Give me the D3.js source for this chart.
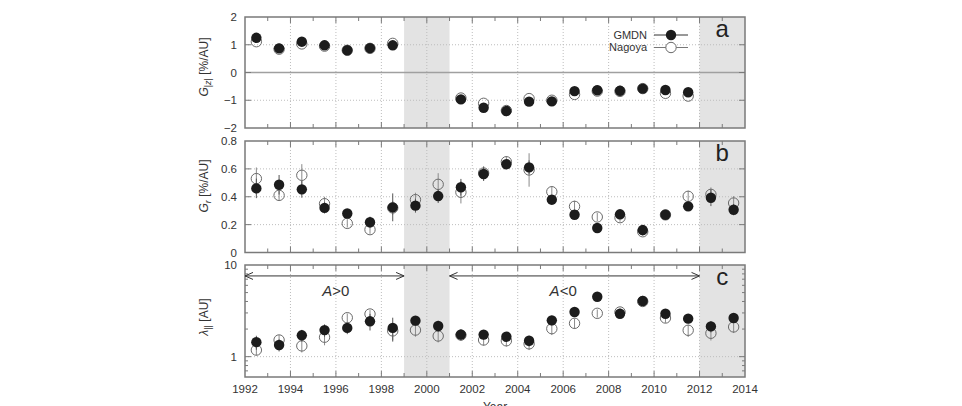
<!DOCTYPE html>
<html>
<head>
<meta charset="utf-8">
<script src="https://cdn.jsdelivr.net/npm/d3@7"></script>
<style>
  body { margin: 0; background: #fff; }
  svg { display: block; font-family: "Liberation Sans", Arial, sans-serif; }
</style>
</head>
<body>
<svg id="chart" width="962" height="406"></svg>
<script>
// ---- data ----
var years = [1992.5, 1993.5, 1994.5, 1995.5, 1996.5, 1997.5, 1998.5, 1999.5, 2000.5, 2001.5, 2002.5,
             2003.5, 2004.5, 2005.5, 2006.5, 2007.5, 2008.5, 2009.5, 2010.5, 2011.5, 2012.5, 2013.5];

// panel a : G|z| [%/AU]  (no values in the shaded periods)
var gmdnA   = [1.25, 0.87, 1.11, 0.98, 0.80, 0.88, 0.98, null, null, -0.97, -1.27,
               -1.39, -1.05, -1.04, -0.67, -0.64, -0.66, -0.58, -0.63, -0.71, null, null];
var nagoyaA = [1.11, 0.84, 1.03, 0.95, 0.80, 0.87, 1.05, null, null, -0.92, -1.11,
               -1.37, -0.94, -1.00, -0.79, -0.67, -0.68, -0.58, -0.75, -0.85, null, null];

// panel b : Gr [%/AU]
var gmdnB      = [0.46, 0.486, 0.453, 0.32, 0.28, 0.217, 0.324, 0.336, 0.405, 0.468, 0.563,
                  0.633, 0.611, 0.379, 0.271, 0.176, 0.274, 0.161, 0.271, 0.331, 0.393, 0.307];
var gmdnBErr   = [0.07, 0.07, 0.06, 0.04, 0.03, 0.04, 0.10, 0.05, 0.05, 0.06, 0.05,
                  0.03, 0.05, 0.02, 0.02, 0.02, 0.02, 0.02, 0.02, 0.02, 0.06, 0.04];
var nagoyaB    = [0.53, 0.41, 0.554, 0.35, 0.209, 0.164, 0.32, 0.379, 0.489, 0.432, 0.57,
                  0.651, 0.592, 0.436, 0.331, 0.255, 0.25, 0.149, 0.27, 0.403, 0.417, 0.355];
var nagoyaBErr = [0.08, 0.04, 0.08, 0.05, 0.03, 0.03, 0.05, 0.05, 0.08, 0.08, 0.05,
                  0.04, 0.12, 0.04, 0.04, 0.03, 0.03, 0.03, 0.02, 0.04, 0.05, 0.05];

// panel c : lambda_|| [AU]
var gmdnC      = [1.44, 1.34, 1.71, 1.95, 2.06, 2.43, 2.06, 2.47, 2.16, 1.74, 1.74,
                  1.65, 1.49, 2.49, 3.07, 4.51, 2.94, 4.05, 2.94, 2.60, 2.14, 2.64];
var gmdnCErr   = [0.25, 0.2, 0.25, 0.3, 0.3, 0.5, 0.6, 0.3, 0.3, 0.25, 0.2,
                  0.2, 0.2, 0.3, 0.3, 0.3, 0.3, 0.3, 0.3, 0.3, 0.3, 0.3];
var nagoyaC    = [1.18, 1.52, 1.31, 1.63, 2.66, 2.92, 1.91, 1.95, 1.68, 1.72, 1.52,
                  1.49, 1.38, 2.02, 2.31, 2.97, 3.07, 4.00, 2.64, 1.94, 1.80, 2.11];
var nagoyaCErr = [0.15, 0.2, 0.2, 0.3, 0.3, 0.3, 0.4, 0.3, 0.25, 0.2, 0.2,
                  0.2, 0.2, 0.3, 0.3, 0.3, 0.3, 0.3, 0.3, 0.3, 0.3, 0.3];

var shaded = [[1999, 2001], [2012, 2014]];
var xTickLabels = [1992, 1994, 1996, 1998, 2000, 2002, 2004, 2006, 2008, 2010, 2012, 2014];

// ---- layout ----
var svg = d3.select("#chart");
var left = 245, right = 745;
var x = d3.scaleLinear().domain([1992, 2014]).range([left, right]);

var panels = [
  { key: "a", y: d3.scaleLinear().domain([-2, 2]).range([128, 17]),
    ticks: [-2, -1, 0, 1, 2], fmt: d3.format("d"),
    g: gmdnA, n: nagoyaA, gErr: null, nErr: null },
  { key: "b", y: d3.scaleLinear().domain([0, 0.8]).range([252.5, 141]),
    ticks: [0, 0.2, 0.4, 0.6, 0.8], fmt: function(d) { return d === 0 ? "0" : d3.format(".1f")(d); },
    g: gmdnB, n: nagoyaB, gErr: gmdnBErr, nErr: nagoyaBErr },
  { key: "c", y: d3.scaleLog().domain([0.6, 10]).range([377, 265]),
    ticks: [1, 10], fmt: d3.format("d"),
    minor: [0.6, 0.7, 0.8, 0.9, 2, 3, 4, 5, 6, 7, 8, 9],
    g: gmdnC, n: nagoyaC, gErr: gmdnCErr, nErr: nagoyaCErr }
];

var frameCol = "#7a7a7a", textCol = "#333";

panels.forEach(function(p) {
  var y = p.y;
  var top = y.range()[1], bot = y.range()[0];
  var g = svg.append("g");

  // shaded periods
  g.selectAll("rect.shade").data(shaded).join("rect")
    .attr("x", d => x(d[0])).attr("width", d => x(d[1]) - x(d[0]))
    .attr("y", top).attr("height", bot - top)
    .attr("fill", "#e3e3e3");

  // grid (dotted)
  g.selectAll("line.vgrid").data(xTickLabels.slice(1, -1)).join("line")
    .attr("x1", d => x(d)).attr("x2", d => x(d)).attr("y1", top).attr("y2", bot)
    .attr("stroke", "#bdbdbd").attr("stroke-dasharray", "1,2");
  var hg = p.ticks.filter(t => Math.abs(y(t) - top) > 1 && Math.abs(y(t) - bot) > 1 && !(p.key === "a" && t === 0));
  g.selectAll("line.hgrid").data(hg).join("line")
    .attr("x1", left).attr("x2", right).attr("y1", d => y(d)).attr("y2", d => y(d))
    .attr("stroke", "#bdbdbd").attr("stroke-dasharray", "1,2");
  if (p.key === "a") {
    g.append("line").attr("x1", left).attr("x2", right).attr("y1", y(0)).attr("y2", y(0))
      .attr("stroke", "#a0a0a0").attr("stroke-width", 1.5);
  }

  // x ticks (inward, top and bottom)
  var yrs = d3.range(1993, 2014);
  g.selectAll("line.xt").data(yrs).join("line")
    .attr("x1", d => x(d)).attr("x2", d => x(d))
    .attr("y1", bot).attr("y2", d => bot - (d % 2 === 0 ? 6 : 4))
    .attr("stroke", frameCol);
  g.selectAll("line.xt2").data(yrs).join("line")
    .attr("x1", d => x(d)).attr("x2", d => x(d))
    .attr("y1", top).attr("y2", d => top + (d % 2 === 0 ? 6 : 4))
    .attr("stroke", frameCol);

  // y ticks (inward, left and right)
  var yt = p.ticks.filter(t => Math.abs(y(t) - top) > 1 && Math.abs(y(t) - bot) > 1);
  [left, right].forEach(function(xx, i) {
    var s = i === 0 ? 1 : -1;
    g.selectAll("line.yt" + i).data(yt).join("line")
      .attr("x1", xx).attr("x2", xx + s * 6).attr("y1", d => y(d)).attr("y2", d => y(d))
      .attr("stroke", frameCol);
    if (p.minor) {
      g.selectAll("line.ym" + i).data(p.minor.filter(t => Math.abs(y(t) - bot) > 1)).join("line")
        .attr("x1", xx).attr("x2", xx + s * 3).attr("y1", d => y(d)).attr("y2", d => y(d))
        .attr("stroke", frameCol);
    }
  });

  // y tick labels
  g.selectAll("text.yl").data(p.ticks).join("text")
    .attr("x", left - 8).attr("y", d => y(d)).attr("dy", "0.35em")
    .attr("text-anchor", "end").attr("font-size", 11.5).attr("fill", textCol)
    .text(p.fmt);

  // frame
  g.append("rect").attr("x", left).attr("y", top).attr("width", right - left).attr("height", bot - top)
    .attr("fill", "none").attr("stroke", frameCol).attr("stroke-width", 1.5);

  // error bars
  function errBars(vals, errs, col) {
    if (!errs) return;
    var d = years.map((yr, i) => ({ yr: yr, v: vals[i], e: errs[i] })).filter(d => d.v != null);
    g.selectAll(null).data(d).join("line")
      .attr("x1", d => x(d.yr)).attr("x2", d => x(d.yr))
      .attr("y1", d => y(d.v - d.e)).attr("y2", d => y(d.v + d.e))
      .attr("stroke", col).attr("stroke-width", 1);
  }
  errBars(p.n, p.nErr, "#8a8a8a");
  errBars(p.g, p.gErr, "#555");

  // markers
  var gd = years.map((yr, i) => ({ yr: yr, v: p.g[i] })).filter(d => d.v != null);
  var nd = years.map((yr, i) => ({ yr: yr, v: p.n[i] })).filter(d => d.v != null);
  g.selectAll("circle.nag").data(nd).join("circle")
    .attr("cx", d => x(d.yr)).attr("cy", d => y(d.v)).attr("r", 5.2)
    .attr("fill", "none").attr("stroke", "#6a6a6a").attr("stroke-width", 1);
  g.selectAll("circle.gmdn").data(gd).join("circle")
    .attr("cx", d => x(d.yr)).attr("cy", d => y(d.v)).attr("r", 5.2)
    .attr("fill", "#1c1c1c");

  // panel letter
  g.append("text").attr("x", x(2013)).attr("y", top + 20)
    .attr("text-anchor", "middle").attr("font-size", 24).attr("fill", "#222")
    .text(p.key);
  p.top = top; p.bot = bot;
});

// ---- y axis titles ----
function yTitle(cy, build) {
  var t = svg.append("text").attr("transform", "translate(208," + cy + ") rotate(-90)")
    .attr("text-anchor", "middle").attr("font-size", 12).attr("fill", textCol);
  build(t);
}
yTitle(67, function(t) {
  t.append("tspan").attr("font-style", "italic").text("G");
  t.append("tspan").attr("font-size", 9).attr("dy", 3).text("|");
  t.append("tspan").attr("font-size", 9).attr("font-style", "italic").text("z");
  t.append("tspan").attr("font-size", 9).text("|");
  t.append("tspan").attr("dy", -3).text(" [%/AU]");
});
yTitle(186, function(t) {
  t.append("tspan").attr("font-style", "italic").text("G");
  t.append("tspan").attr("font-size", 9).attr("dy", 3).attr("font-style", "italic").text("r");
  t.append("tspan").attr("dy", -3).text(" [%/AU]");
});
yTitle(317, function(t) {
  t.append("tspan").attr("font-style", "italic").text("λ");
  t.append("tspan").attr("font-size", 9).attr("dy", 3).text("||");
  t.append("tspan").attr("dy", -3).text(" [AU]");
});

// ---- x axis labels (bottom panel) ----
var pc = panels[2];
svg.selectAll("text.xl").data(xTickLabels).join("text")
  .attr("x", d => x(d)).attr("y", pc.bot + 16)
  .attr("text-anchor", "middle").attr("font-size", 11.5).attr("fill", textCol)
  .text(d => d);
svg.append("text").attr("x", x(2003)).attr("y", 411)
  .attr("text-anchor", "middle").attr("font-size", 12).attr("fill", textCol).text("Year");

// ---- polarity arrows in panel c ----
var arrowY = pc.y(7.6);
var arrows = [[1992, 1999], [2001, 2012]];
arrows.forEach(function(a) {
  var x0 = x(a[0]), x1 = x(a[1]);
  svg.append("line").attr("x1", x0).attr("x2", x1).attr("y1", arrowY).attr("y2", arrowY)
    .attr("stroke", "#333").attr("stroke-width", 1);
  svg.append("path").attr("d", `M${x0 + 8},${arrowY - 3.5} L${x0},${arrowY} L${x0 + 8},${arrowY + 3.5}`)
    .attr("fill", "none").attr("stroke", "#333");
  svg.append("path").attr("d", `M${x1 - 8},${arrowY - 3.5} L${x1},${arrowY} L${x1 - 8},${arrowY + 3.5}`)
    .attr("fill", "none").attr("stroke", "#333");
});
[["A", ">0", 1996], ["A", "<0", 2006]].forEach(function(l) {
  var t = svg.append("text").attr("x", x(l[2])).attr("y", pc.y(5.2)).attr("dy", "0.35em")
    .attr("text-anchor", "middle").attr("font-size", 15).attr("fill", "#333");
  t.append("tspan").attr("font-style", "italic").text(l[0]);
  t.append("tspan").text(l[1]);
});

// ---- legend (panel a) ----
var legend = [["GMDN", true], ["Nagoya", false]];
legend.forEach(function(l, i) {
  var ly = 35 + i * 12.5;
  svg.append("text").attr("x", 647).attr("y", ly).attr("dy", "0.35em")
    .attr("text-anchor", "end").attr("font-size", 11).attr("fill", textCol).text(l[0]);
  svg.append("line").attr("x1", 654).attr("x2", 688).attr("y1", ly).attr("y2", ly)
    .attr("stroke", l[1] ? "#333" : "#777");
  svg.append("circle").attr("cx", 671).attr("cy", ly).attr("r", 5.2)
    .attr("fill", l[1] ? "#1c1c1c" : "#fff")
    .attr("stroke", l[1] ? "none" : "#6a6a6a");
});
</script>
</body>
</html>
